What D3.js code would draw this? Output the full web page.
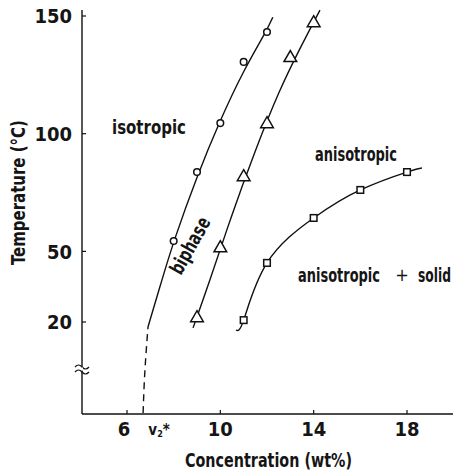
<!DOCTYPE html>
<html>
<head>
<meta charset="utf-8">
<script src="https://cdn.jsdelivr.net/npm/d3@7"></script>
<style>
  html, body { margin: 0; padding: 0; background: #fff; }
  svg text { font-family: "DejaVu Sans Condensed", "Liberation Sans Narrow", "Arial Narrow", sans-serif; font-weight: bold; fill: #151515; }
</style>
</head>
<body>
<svg id="chart" width="453" height="476"></svg>
<script>
// ---- data ----
const xTickValues = [6, 10, 14, 18];
const xTickLabels = ["6", "10", "14", "18"];
const v2Star = 6.7;
const yTickValues = [20, 50, 100, 150];
const yTickLabels = ["20", "50", "100", "150"];

// isotropic / biphase boundary (circles)
const circleX = [8, 9, 10, 11, 12];
const circleY = [54.4, 83.7, 104.5, 130.5, 143.2];
// biphase / anisotropic boundary (triangles)
const triX = [9, 10, 11, 12, 13, 14];
const triY = [21.7, 51.4, 81.6, 104.1, 132.2, 147.0];
// anisotropic / anisotropic+solid boundary (squares)
const sqX = [11, 12, 14, 16, 18];
const sqY = [20.8, 45.1, 64.2, 76.1, 83.7];

// drawn boundary curves (smooth fits)
const isoCurveX = [6.9, 7.5, 8, 9, 10, 11, 12, 12.25];
const isoCurveY = [17.9, 38, 54.4, 82, 106, 127, 144, 149.5];
const isoDashX = [6.69, 6.72, 6.77, 6.9];
const isoDashY = [-18.7, -10, 0.9, 17.9];
const triCurveX = [8.83, 9.5, 10.5, 11.5, 12.5, 13.5, 14.27];
const triCurveY = [17.5, 36, 66, 93, 118, 138, 152.5];
const sqCurveX = [10.67, 11, 12, 14, 16, 18, 18.64];
const sqCurveY = [16.6, 20.8, 45.1, 64.2, 76.1, 83.7, 85.4];

const regionLabels = ["isotropic", "biphase", "anisotropic", "anisotropic", "+", "solid"];

// ---- layout ----
const svg = d3.select("#chart");
const x = d3.scaleLinear().domain([6, 18]).range([127, 407]);
const y = d3.scaleLinear().domain([20, 150]).range([322, 16]);
const xAxisY = 414, yAxisX = 82;
const yTop = y.invert(10);

// condensed text: scale horizontally to a target width
function fitText(parent, str, px, py, width, size, rot) {
  const t = parent.append("text").attr("font-size", size).text(str);
  const len = t.node().getComputedTextLength();
  const sx = Math.min(1, width / len);
  t.attr("transform", `translate(${px},${py})` + (rot ? ` rotate(${rot})` : "") + ` scale(${sx},1)`);
  return t;
}

const g = svg.append("g");
g.append("line").attr("x1", yAxisX).attr("x2", yAxisX).attr("y1", y(yTop)).attr("y2", xAxisY)
  .attr("stroke", "#111").attr("stroke-width", 1.4);
g.append("line").attr("x1", yAxisX).attr("x2", 453).attr("y1", xAxisY).attr("y2", xAxisY)
  .attr("stroke", "#111").attr("stroke-width", 1.4);

// y ticks & labels
yTickValues.forEach((v, i) => {
  g.append("line").attr("x1", yAxisX).attr("x2", yAxisX + 4).attr("y1", y(v)).attr("y2", y(v))
    .attr("stroke", "#111").attr("stroke-width", 1.2);
  g.append("text").attr("x", 72).attr("y", y(v)).attr("dy", "0.36em")
    .attr("text-anchor", "end").attr("font-size", 20).text(yTickLabels[i]);
});
// x ticks & labels
xTickValues.forEach((v, i) => {
  g.append("line").attr("x1", x(v)).attr("x2", x(v)).attr("y1", xAxisY).attr("y2", xAxisY - 4)
    .attr("stroke", "#111").attr("stroke-width", 1.2);
  g.append("text").attr("x", x(v) + (v === 6 ? -3 : 0)).attr("y", 436)
    .attr("text-anchor", "middle").attr("font-size", 20).text(xTickLabels[i]);
});
// v2* label
const v2t = g.append("text").attr("x", x(v2Star) + 5).attr("y", 435).attr("font-size", 15);
v2t.append("tspan").text("v");
v2t.append("tspan").attr("font-size", 9).attr("dy", 2).text("2");
v2t.append("tspan").attr("dy", -2).text("*");

// axis titles
fitText(g, "Concentration (wt%)", 185, 467, 167, 20);
fitText(g, "Temperature (°C)", 25, 265, 145, 20, -90);

// axis break
[0, 5].forEach(d => {
  g.append("path").attr("d", `M${yAxisX - 7},${367 + d} q3.5,-4 7,0 t7,0`)
    .attr("fill", "none").attr("stroke", "#111").attr("stroke-width", 1.2);
});
g.append("rect").attr("x", yAxisX - 1).attr("y", 367.5).attr("width", 2).attr("height", 3).attr("fill", "#fff");

// curves
const zip = (a, b) => a.map((v, i) => [v, b[i]]);
const smooth = d3.line().x(d => x(d[0])).y(d => y(d[1])).curve(d3.curveBasis);
const curveStyle = sel => sel.attr("fill", "none").attr("stroke", "#111").attr("stroke-width", 1.4);
svg.append("path").datum(zip(isoCurveX, isoCurveY)).attr("d", smooth).call(curveStyle);
svg.append("path").datum(zip(isoDashX, isoDashY)).attr("d", smooth).call(curveStyle).attr("stroke-dasharray", "7,5");
svg.append("path").datum(zip(triCurveX, triCurveY)).attr("d", smooth).call(curveStyle);
svg.append("path").datum(zip(sqCurveX, sqCurveY)).attr("d", d3.line().x(d => x(d[0])).y(d => y(d[1])).curve(d3.curveNatural)).call(curveStyle);

// markers
const mk = svg.append("g").attr("fill", "#fff").attr("stroke", "#111").attr("stroke-width", 1.5);
mk.selectAll(".c").data(zip(circleX, circleY)).join("circle")
  .attr("cx", d => x(d[0])).attr("cy", d => y(d[1])).attr("r", 3.3);
mk.selectAll(".t").data(zip(triX, triY)).join("path")
  .attr("d", d3.symbol(d3.symbolTriangle, 70))
  .attr("transform", d => `translate(${x(d[0])},${y(d[1])})`);
mk.selectAll(".s").data(zip(sqX, sqY)).join("rect")
  .attr("x", d => x(d[0]) - 3.3).attr("y", d => y(d[1]) - 3.3).attr("width", 6.6).attr("height", 6.6);

// region labels
fitText(svg, regionLabels[0], 112, 134, 74, 20);
fitText(svg, regionLabels[1], 181, 276, 62, 20, -61);
fitText(svg, regionLabels[2], 315, 161, 82, 20);
fitText(svg, regionLabels[3], 298, 282, 82, 20);
svg.append("text").attr("x", 402).attr("y", 281).attr("text-anchor", "middle")
  .attr("font-size", 18).style("font-weight", "normal").text(regionLabels[4]);
fitText(svg, regionLabels[5], 418, 282, 33, 20);
</script>
</body>
</html>
